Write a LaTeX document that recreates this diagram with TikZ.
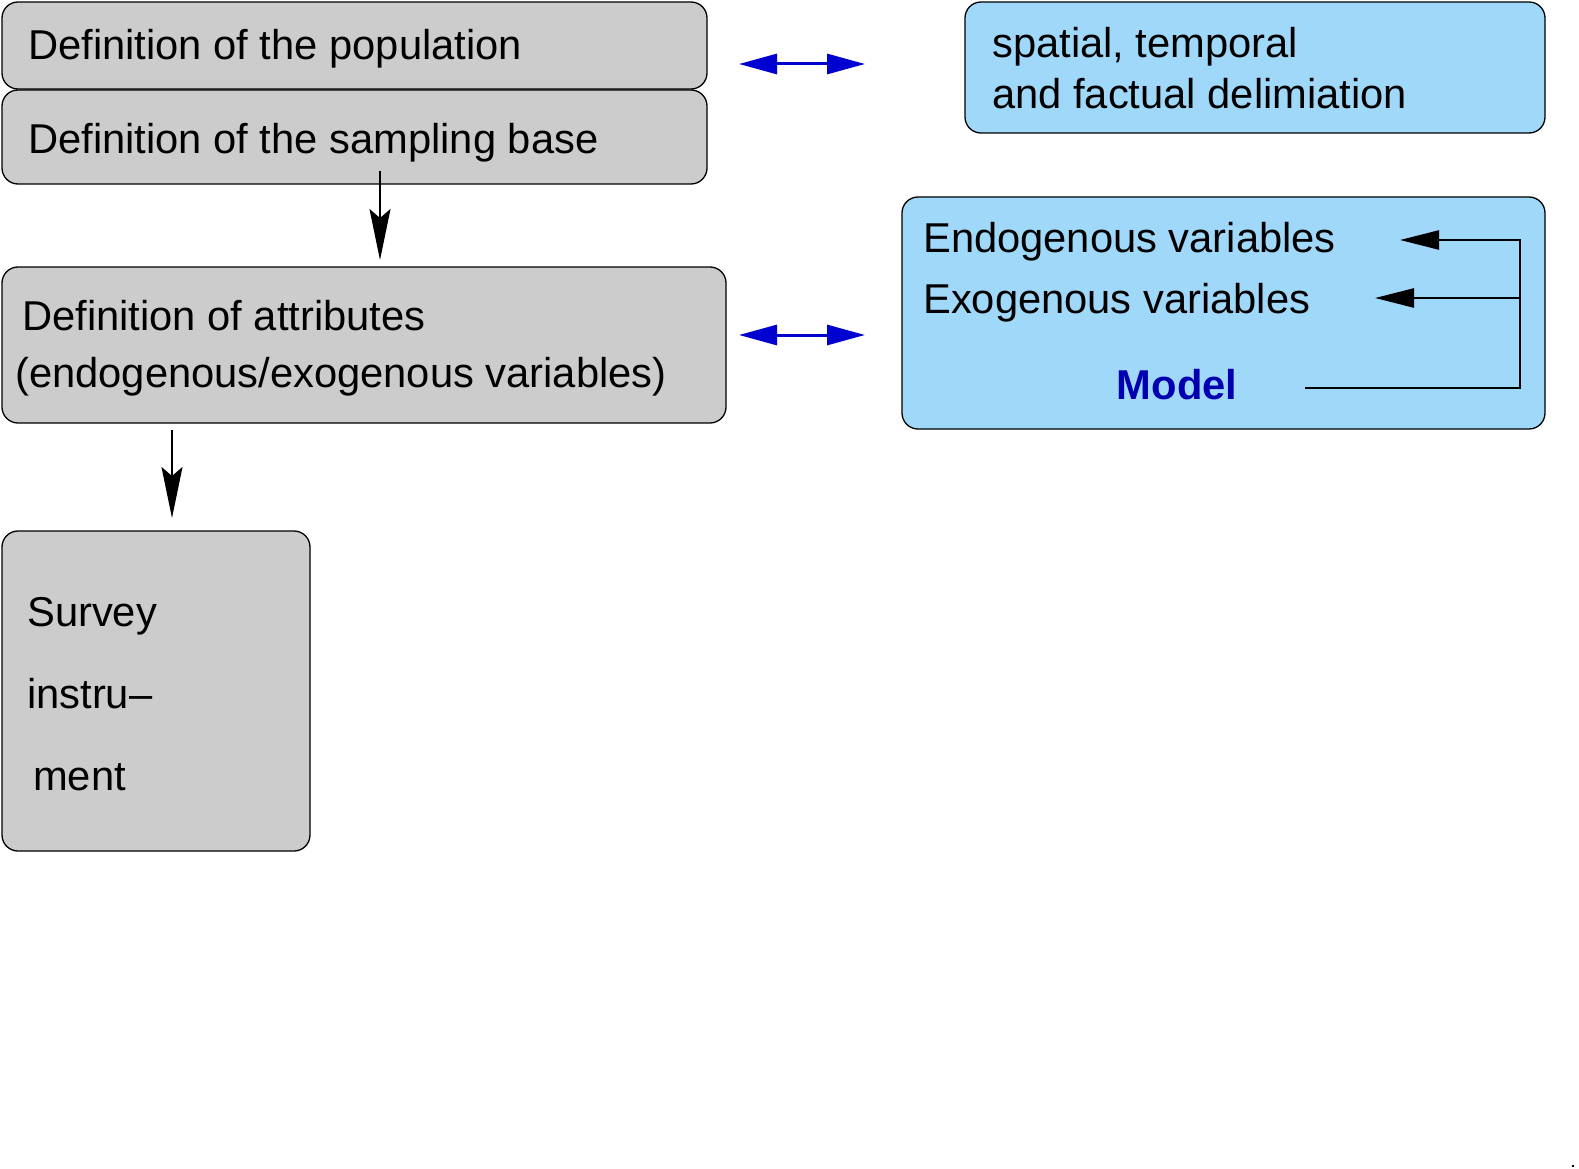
\documentclass[tikz,border=0pt]{standalone}
\usepackage{fontspec}
\setmainfont{Liberation Sans}
\usetikzlibrary{arrows.meta}
\definecolor{boxgray}{RGB}{204,204,204}
\definecolor{boxblue}{RGB}{160,216,250}
\definecolor{arrowblue}{RGB}{0,0,208}
\definecolor{modelblue}{RGB}{0,0,176}
\begin{document}
\begin{tikzpicture}[x=1pt,y=-1pt,
  graybox/.style={draw=black,line width=1.3pt,fill=boxgray,rounded corners=16pt},
  bluebox/.style={draw=black,line width=1.3pt,fill=boxblue,rounded corners=16pt},
  label/.style={anchor=base west,inner sep=0pt,font=\fontsize{41.7}{50}\selectfont},
  downarrow/.style={line width=2pt,-{Stealth[length=51pt,width=21pt,inset=9pt]}},
  bothways/.style={line width=3pt,draw=arrowblue,{Triangle[length=38pt,width=20pt]}-{Triangle[length=38pt,width=20pt]}},
  feedback/.style={line width=2.5pt,-{Triangle[length=39pt,width=19pt]}}]
\useasboundingbox (0,0) rectangle (1579,1169);

% left column: gray boxes
\draw[graybox] (2,2) rectangle (707,89);
\draw[graybox] (2,90) rectangle (707,184);
\draw[graybox] (2,267) rectangle (726,423);
\draw[graybox] (2,531) rectangle (310,851);

\node[label] (pop) at (28,60) {Definition of the population};
\node[label] (base) at (28,154) {Definition of the sampling base};
\node[label] (attr1) at (22,330) {Definition of attributes};
\node[label] (attr2) at (15,387) {(endogenous/exogenous variables)};
\node[label] (surv1) at (27,626) {Survey};
\node[label] (surv2) at (27,708) {instru--};
\node[label] (surv3) at (33,790) {ment};

% right column: blue boxes
\draw[bluebox] (965,2) rectangle (1545,133);
\draw[bluebox] (902,197) rectangle (1545,429);

\node[label] (deli1) at (992,58) {spatial, temporal};
\node[label] (deli2) at (992,109) {and factual delimiation};
\node[label] (endo) at (923,252) {Endogenous variables};
\node[label] (exo) at (923,313) {Exogenous variables};
\node[label,anchor=base,text=modelblue,font=\fontsize{41.7}{50}\selectfont\bfseries] (model) at (1177,399) {Model};

% downward flow
\coordinate (d1s) at (380,171);
\coordinate (d1e) at (380,260);
\coordinate (d2s) at (172,430);
\coordinate (d2e) at (172,518);
\draw[downarrow] (d1s) -- (d1e);
\draw[downarrow] (d2s) -- (d2e);

% links between the columns
\coordinate (l1a) at (739,64);
\coordinate (l1b) at (865,64);
\coordinate (l2a) at (739,335);
\coordinate (l2b) at (865,335);
\draw[bothways] (l1a) -- (l1b);
\draw[bothways] (l2a) -- (l2b);

% model feedback to the variables
\coordinate (mfrom) at (1305,388);
\coordinate (mcorner) at (1520,388);
\coordinate (mtop) at (1520,240);
\coordinate (mmid) at (1520,298);
\coordinate (toendo) at (1400,240);
\coordinate (toexo) at (1375,298);
\draw[feedback] (mfrom) -- (mcorner) -- (mtop) -- (toendo);
\draw[feedback] (mmid) -- (toexo);

% small mark in the lower right corner
\fill (1572,1165) rectangle (1574,1167);
\end{tikzpicture}
\end{document}
